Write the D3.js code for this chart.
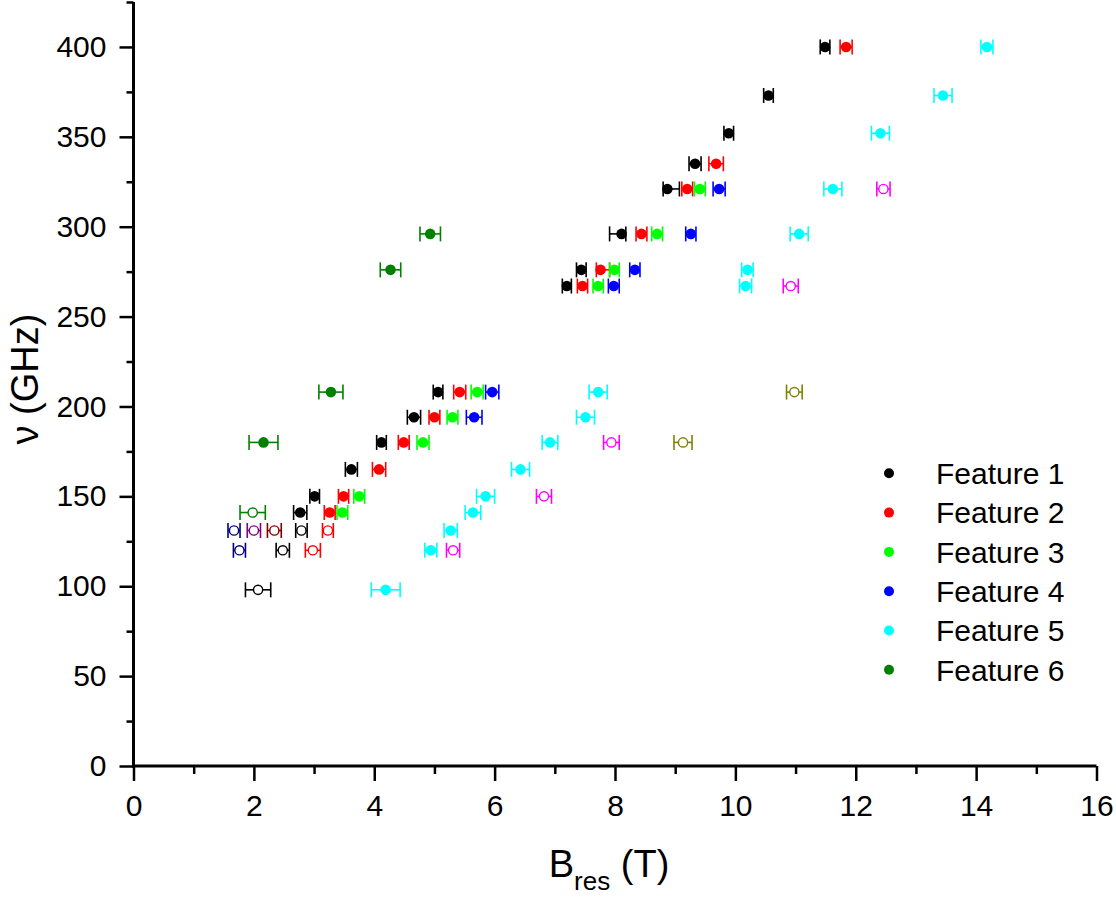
<!DOCTYPE html>
<html><head><meta charset="utf-8">
<script src="https://cdn.jsdelivr.net/npm/d3@7"></script>
<style>
body{margin:0;background:#fff}
svg{display:block}
text{font-family:"Liberation Sans",Arial,Helvetica,sans-serif;fill:#000}
</style>
</head><body>
<svg id="chart" width="1116" height="897"></svg>
<script>
// Each point: [B_res (T), nu (GHz), error minus (T), error plus (T)]
const feature1 = [[11.49,400,0.08,0.08],[10.55,373,0.08,0.08],[9.89,352,0.08,0.08],[9.33,335,0.10,0.10],
  [8.87,321,0.07,0.20],[8.11,296,0.20,0.07],[7.44,276,0.08,0.08],[7.20,267,0.075,0.075],
  [5.06,208,0.08,0.08],[4.66,194,0.11,0.11],[4.12,180,0.08,0.08],[3.62,165,0.10,0.10],
  [3.01,150,0.08,0.08],[2.77,141,0.11,0.11]];
const feature2 = [[11.84,400,0.10,0.10],[9.68,335,0.12,0.12],[9.20,321,0.09,0.09],[8.44,296,0.09,0.09],
  [7.76,276,0.07,0.15],[7.46,267,0.085,0.085],[5.42,208,0.10,0.10],[5.00,194,0.09,0.09],
  [4.49,180,0.09,0.09],[4.08,165,0.11,0.11],[3.49,150,0.085,0.085],[3.26,141,0.09,0.09]];
const feature3 = [[9.41,321,0.09,0.09],[8.70,296,0.09,0.09],[7.99,276,0.08,0.08],[7.72,267,0.085,0.085],
  [5.71,208,0.10,0.10],[5.30,194,0.09,0.09],[4.81,180,0.10,0.10],[3.75,150,0.09,0.09],[3.47,141,0.09,0.09]];
const feature4 = [[9.73,321,0.10,0.10],[9.26,296,0.085,0.085],[8.33,276,0.085,0.085],[7.98,267,0.09,0.09],
  [5.96,208,0.11,0.11],[5.66,194,0.13,0.13]];
const feature5 = [[14.18,400,0.10,0.10],[13.45,373,0.15,0.15],[12.41,352,0.15,0.15],[11.62,321,0.15,0.15],
  [11.06,296,0.15,0.15],[10.20,276,0.095,0.095],[10.17,267,0.10,0.10],[7.72,208,0.15,0.15],
  [7.51,194,0.15,0.15],[6.92,180,0.13,0.13],[6.43,165,0.15,0.15],[5.85,150,0.15,0.15],
  [5.64,141,0.13,0.13],[5.27,131,0.11,0.11],[4.94,120,0.10,0.10],[4.19,98,0.24,0.24]];
const feature6 = [[4.93,296,0.17,0.17],[4.27,276,0.17,0.17],[3.28,208,0.20,0.20],[2.16,180,0.24,0.24]];
// open-symbol series (not in legend)
const openBlack = [[2.79,131,0.095,0.095],[2.48,120,0.11,0.11],[2.07,98,0.21,0.21]];
const openRed = [[3.23,131,0.09,0.09],[2.98,120,0.125,0.125]];
const openDarkGreen = [[1.98,141,0.21,0.21]];
const openNavy = [[1.67,131,0.10,0.10],[1.76,120,0.10,0.10]];
const openPurple = [[2.00,131,0.11,0.11]];
const openMaroon = [[2.34,131,0.115,0.115]];
const openMagenta = [[12.46,321,0.11,0.11],[10.92,267,0.125,0.125],[7.94,180,0.13,0.13],[6.82,150,0.125,0.125],[5.31,120,0.11,0.11]];
const openOlive = [[10.98,208,0.13,0.13],[9.13,180,0.15,0.15]];

const legendLabels = ["Feature 1","Feature 2","Feature 3","Feature 4","Feature 5","Feature 6"];
const xTickValues = [0,2,4,6,8,10,12,14,16];
const xMinorTicks = [1,3,5,7,9,11,13,15];
const yTickValues = [0,50,100,150,200,250,300,350,400];
const yMinorTicks = [25,75,125,175,225,275,325,375,425];

const series = [
  {data: feature1, color: "#000000", open: false},
  {data: feature2, color: "#FF0000", open: false},
  {data: feature3, color: "#00FF00", open: false},
  {data: feature4, color: "#0000FF", open: false},
  {data: feature5, color: "#00FFFF", open: false},
  {data: feature6, color: "#008000", open: false},
  {data: openBlack, color: "#000000", open: true},
  {data: openRed, color: "#FF0000", open: true},
  {data: openDarkGreen, color: "#008000", open: true},
  {data: openNavy, color: "#000080", open: true},
  {data: openPurple, color: "#800080", open: true},
  {data: openMaroon, color: "#800000", open: true},
  {data: openMagenta, color: "#FF00FF", open: true},
  {data: openOlive, color: "#808000", open: true}
];

const svg = d3.select("#chart");
const x = d3.scaleLinear().domain([0,16]).range([133.5,1096.5]);
const y = d3.scaleLinear().domain([0,425]).range([766,2]);

// axes
const gx = svg.append("g").attr("transform","translate(0,766)");
gx.call(d3.axisBottom(x).tickValues(xMinorTicks).tickSize(8).tickSizeOuter(0).tickFormat(""));
gx.call(g=>g.select(".domain").remove());
const gx2 = svg.append("g").attr("transform","translate(0,766)");
gx2.call(d3.axisBottom(x).tickValues(xTickValues).tickSize(15).tickSizeOuter(0).tickPadding(14).tickFormat(d3.format("d")));
gx2.selectAll("text").attr("font-size",30).attr("font-family",'"Liberation Sans",Arial,sans-serif');

const gy = svg.append("g").attr("transform","translate(133.5,0)");
gy.call(d3.axisLeft(y).tickValues(yMinorTicks).tickSize(7).tickSizeOuter(0).tickFormat(""));
gy.call(g=>g.select(".domain").remove());
const gy2 = svg.append("g").attr("transform","translate(133.5,0)");
gy2.call(d3.axisLeft(y).tickValues(yTickValues).tickSize(14).tickSizeOuter(0).tickPadding(13).tickFormat(d3.format("d")));
gy2.selectAll("text").attr("font-size",30).attr("font-family",'"Liberation Sans",Arial,sans-serif');

svg.selectAll(".tick line").attr("stroke","#000").attr("stroke-width",2.5);
svg.selectAll(".domain").attr("stroke","#000").attr("stroke-width",3);
gy2.select(".domain").attr("d",`M0,${y(425)}V${y(0)+1.5}`);
gx2.select(".domain").attr("d",`M${x(0)-1.5},0H${x(16)}`);

// error bars and markers
const cap = 7.5;
const plot = svg.append("g");
series.forEach(s=>{
  const g = plot.append("g");
  const pts = g.selectAll("g").data(s.data).join("g");
  pts.append("line").attr("x1",d=>x(d[0]-d[2])).attr("x2",d=>x(d[0]+d[3]))
    .attr("y1",d=>y(d[1])).attr("y2",d=>y(d[1])).attr("stroke",s.color).attr("stroke-width",1.6);
  pts.append("line").attr("x1",d=>x(d[0]-d[2])).attr("x2",d=>x(d[0]-d[2]))
    .attr("y1",d=>y(d[1])-cap).attr("y2",d=>y(d[1])+cap).attr("stroke",s.color).attr("stroke-width",1.6);
  pts.append("line").attr("x1",d=>x(d[0]+d[3])).attr("x2",d=>x(d[0]+d[3]))
    .attr("y1",d=>y(d[1])-cap).attr("y2",d=>y(d[1])+cap).attr("stroke",s.color).attr("stroke-width",1.6);
  if (s.open) {
    pts.append("circle").attr("cx",d=>x(d[0])).attr("cy",d=>y(d[1])).attr("r",4.6)
      .attr("fill","#fff").attr("stroke",s.color).attr("stroke-width",1.4);
  } else {
    pts.append("circle").attr("cx",d=>x(d[0])).attr("cy",d=>y(d[1])).attr("r",5.3)
      .attr("fill",s.color);
  }
});

// legend
const lg = svg.append("g");
legendLabels.forEach((lab,i)=>{
  const cy = 473.3 + i*39.3;
  lg.append("circle").attr("cx",889).attr("cy",cy).attr("r",5).attr("fill",series[i].color);
  lg.append("text").attr("x",936).attr("y",cy+10.8).attr("font-size",30).text(lab);
});

// axis titles
const xt = svg.append("text").attr("x",609).attr("y",877).attr("text-anchor","middle").attr("font-size",38);
xt.append("tspan").text("B");
xt.append("tspan").attr("font-size",26).attr("dy",13).text("res");
xt.append("tspan").attr("dy",-13).text(" (T)");

svg.append("text").attr("transform","translate(38,379) rotate(-90)")
  .attr("text-anchor","middle").attr("font-size",38).text("ν (GHz)");
</script>
</body></html>
